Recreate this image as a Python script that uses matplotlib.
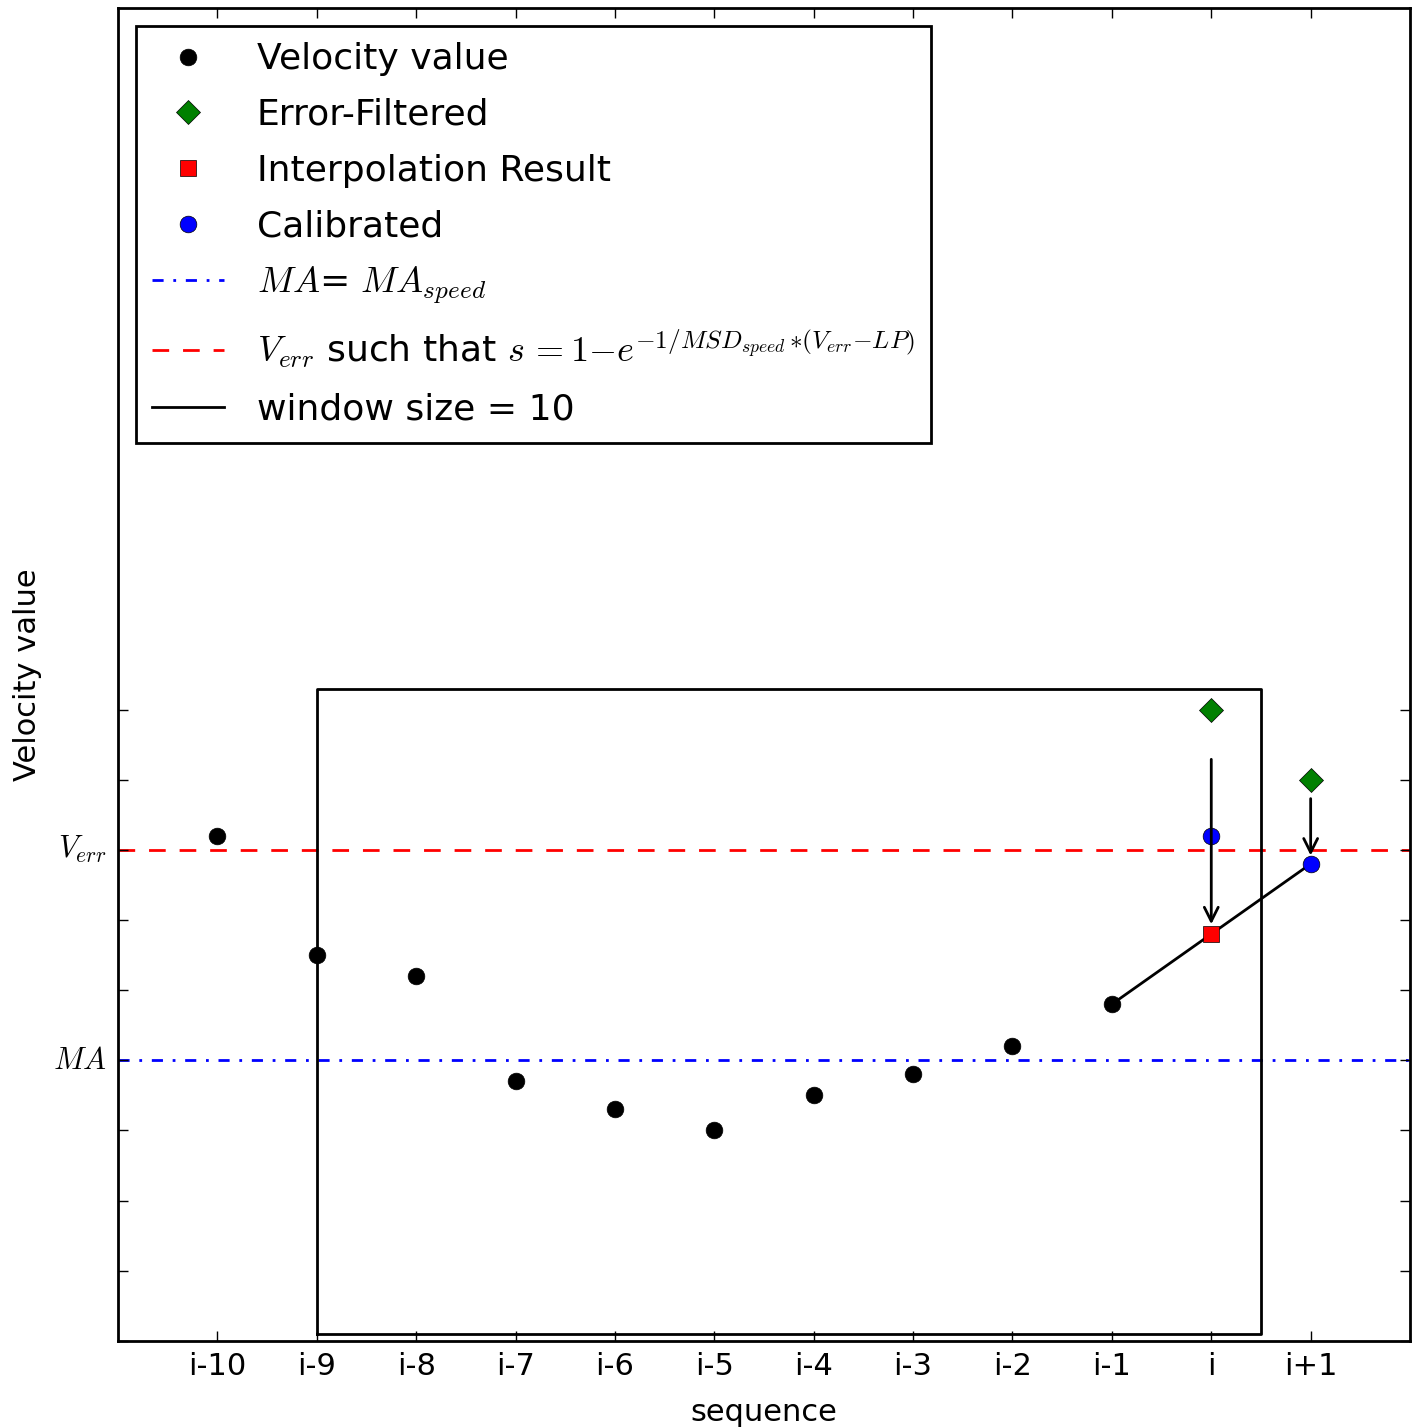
import numpy as np
import matplotlib
matplotlib.use('Agg')
import matplotlib.pyplot as plt

plt.style.use('classic')
plt.rcParams['mathtext.fontset'] = 'cm'

seq_labels = ['i-10', 'i-9', 'i-8', 'i-7', 'i-6', 'i-5', 'i-4', 'i-3', 'i-2', 'i-1', 'i', 'i+1']
velocity = [7.2, 5.5, 5.2, 3.7, 3.3, 3.0, 3.5, 3.8, 4.2, 4.8]
filtered = [9.0, 8.0]        # at i, i+1
calibrated = [7.2, 6.8]      # at i, i+1
interp = 5.8                 # at i
ma_level = 4
verr_level = 7

xs = np.arange(len(seq_labels))

fig = plt.figure(figsize=(14.16, 14.27), dpi=100)
ax = fig.add_axes([0.0833, 0.0603, 0.9125, 0.9341])

ax.axhline(ma_level, color='b', ls='-.', lw=2, dashes=(8, 7, 2, 7),
           label=r'$MA$= $MA_{speed}$')
ax.axhline(verr_level, color='r', ls='--', lw=2, dashes=(12, 10),
           label=r'$V_{err}$ such that $s\,{=}1{-}e^{{-}1/MSD_{speed}\,{*}(V_{err}{-}LP)}$')

# window box
ax.plot([1, 10.5, 10.5, 1, 1], [0.1, 0.1, 9.3, 9.3, 0.1], 'k-', lw=2, label='window size = 10')

# interpolation line between i-1 and i+1
ax.plot([xs[9], xs[11]], [velocity[9], calibrated[1]], 'k-', lw=2)

for x0, y0, y1 in [(10, 8.33, 5.9), (11, 7.77, 6.88)]:
    ax.annotate('', xy=(x0, y1), xytext=(x0, y0),
                arrowprops=dict(arrowstyle='->', color='k', lw=2, mutation_scale=25))

ax.plot(xs[:10], velocity, 'ko', ms=12, label='Velocity value')
ax.plot(xs[10:], filtered, 'gD', ms=12, label='Error-Filtered')
ax.plot([xs[10]], [interp], 'rs', ms=11, label='Interpolation Result')
ax.plot(xs[10:], calibrated, 'bo', ms=12, label='Calibrated')

ax.set_xlim(-1, 12)
ax.set_ylim(0, 19)
ax.set_xticks(xs)
ax.set_xticklabels(seq_labels, fontsize=22)
ax.set_yticks(range(10))
ax.set_yticklabels(['' if k not in (ma_level, verr_level) else
                    (r'$MA$' if k == ma_level else r'$V_{err}$') for k in range(10)],
                   fontsize=22)
ax.tick_params(length=7, width=1, pad=8)
for sp in ax.spines.values():
    sp.set_linewidth(2)

ax.set_xlabel('sequence', fontsize=22, labelpad=12)
ax.set_ylabel('Velocity value', fontsize=22, labelpad=8)

h, l = ax.get_legend_handles_labels()
order = [3, 4, 5, 6, 0, 1, 2]
leg = ax.legend([h[k] for k in order], [l[k] for k in order], loc='upper left',
                numpoints=1, fontsize=26, labelspacing=0.6, borderpad=0.45,
                handletextpad=0.9, borderaxespad=0.5)
leg.get_frame().set_linewidth(2)

fig.savefig('out.png', dpi=100)
